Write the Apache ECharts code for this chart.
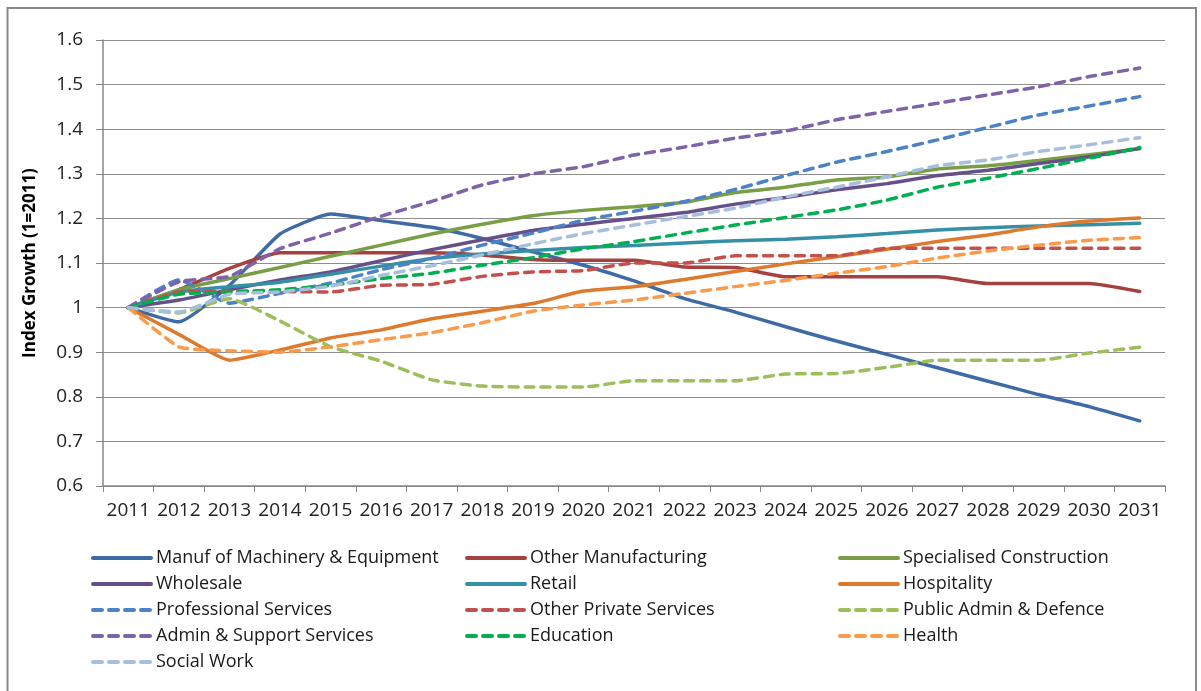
<!DOCTYPE html>
<html>
<head>
<meta charset="utf-8">
<script src="https://cdn.jsdelivr.net/npm/echarts@6/dist/echarts.min.js"></script>
<style>
  html, body { margin: 0; padding: 0; background: #fff; }
  #chart { width: 1201px; height: 691px; }
</style>
</head>
<body>
<div id="chart"></div>
<script>
// years on the x axis
const years = ['2011','2012','2013','2014','2015','2016','2017','2018','2019','2020','2021',
               '2022','2023','2024','2025','2026','2027','2028','2029','2030','2031'];

// index values (1 = 2011)
const manufMachinery = [1.0,0.968,1.05,1.165,1.21,1.195,1.18,1.155,1.125,1.095,1.06,1.02,0.99,0.957,0.925,0.895,0.865,0.835,0.805,0.778,0.746];
const otherManufacturing = [1.0,1.04,1.088,1.123,1.123,1.123,1.123,1.118,1.108,1.106,1.106,1.091,1.09,1.069,1.069,1.069,1.069,1.054,1.054,1.054,1.036];
const specialisedConstruction = [1.0,1.04,1.065,1.09,1.115,1.14,1.165,1.187,1.206,1.218,1.226,1.236,1.258,1.27,1.286,1.293,1.311,1.318,1.33,1.343,1.356];
const wholesale = [1.0,1.017,1.04,1.062,1.08,1.105,1.13,1.152,1.173,1.187,1.2,1.213,1.232,1.247,1.264,1.278,1.296,1.308,1.323,1.338,1.357];
const retail = [1.0,1.035,1.047,1.057,1.075,1.093,1.11,1.12,1.128,1.135,1.139,1.145,1.15,1.153,1.159,1.166,1.174,1.179,1.183,1.186,1.189];
const hospitality = [1.0,0.94,0.882,0.905,0.932,0.95,0.975,0.992,1.009,1.037,1.047,1.063,1.081,1.098,1.114,1.131,1.148,1.163,1.181,1.194,1.201];
const professionalServices = [1.0,1.062,1.01,1.032,1.055,1.085,1.11,1.14,1.167,1.196,1.216,1.238,1.265,1.296,1.326,1.35,1.376,1.404,1.432,1.452,1.473];
const otherPrivateServices = [1.0,1.035,1.037,1.036,1.035,1.05,1.052,1.07,1.08,1.083,1.1,1.1,1.116,1.116,1.116,1.133,1.133,1.133,1.133,1.133,1.133];
const publicAdmin = [1.0,0.988,1.02,0.97,0.912,0.88,0.838,0.824,0.822,0.822,0.836,0.836,0.836,0.851,0.852,0.866,0.882,0.882,0.882,0.898,0.911];
const adminSupport = [1.0,1.058,1.07,1.132,1.167,1.205,1.238,1.275,1.3,1.316,1.342,1.36,1.38,1.396,1.421,1.44,1.458,1.477,1.495,1.518,1.537];
const education = [1.0,1.03,1.035,1.04,1.05,1.065,1.077,1.095,1.112,1.132,1.148,1.167,1.185,1.202,1.219,1.241,1.27,1.29,1.312,1.335,1.359];
const health = [1.0,0.912,0.903,0.9,0.912,0.928,0.944,0.966,0.992,1.006,1.017,1.032,1.047,1.061,1.077,1.092,1.111,1.127,1.14,1.151,1.157];
const socialWork = [1.0,0.99,1.03,1.035,1.048,1.072,1.094,1.118,1.143,1.166,1.185,1.204,1.223,1.248,1.27,1.293,1.318,1.331,1.35,1.365,1.381];

const yTicks = { min: 0.6, max: 1.6, step: 0.1 };

const chartDom = document.getElementById('chart');
const myChart = echarts.init(chartDom);

const DASH = [9, 7];
function mk(name, data, color, dashed) {
    return {
        name: name,
        type: 'line',
        data: data,
        symbol: 'none',
        smooth: 0.15,
        lineStyle: {
            color: color,
            width: 3.5,
            type: dashed ? DASH : 'solid',
            cap: 'round'
        },
        itemStyle: { color: color }
    };
}

const series = [
    mk('Manuf of Machinery & Equipment', manufMachinery, '#3E6BA6', false),
    mk('Other Manufacturing', otherManufacturing, '#A5413F', false),
    mk('Specialised Construction', specialisedConstruction, '#7A9E45', false),
    mk('Wholesale', wholesale, '#65508A', false),
    mk('Retail', retail, '#3590A6', false),
    mk('Hospitality', hospitality, '#DD7A2E', false),
    mk('Professional Services', professionalServices, '#4D83C6', true),
    mk('Other Private Services', otherPrivateServices, '#C4504D', true),
    mk('Public Admin & Defence', publicAdmin, '#9CBF5B', true),
    mk('Admin & Support Services', adminSupport, '#7F62A8', true),
    mk('Education', education, '#00B050', true),
    mk('Health', health, '#FA9A4A', true),
    mk('Social Work', socialWork, '#A7BFDD', true)
];

const font = 'Open Sans';
function legendCol(left, names) {
    return {
        orient: 'vertical',
        left: left,
        top: 549,
        itemWidth: 58,
        itemHeight: 14,
        itemGap: 8,
        padding: 0,
        data: names,
        itemStyle: { opacity: 0 },
        lineStyle: { width: 4, cap: 'round' },
        textStyle: { fontFamily: font, fontSize: 18, color: '#1a1a1a', lineHeight: 18 }
    };
}

const option = {
    animation: false,
    backgroundColor: '#fff',
    textStyle: { fontFamily: font },
    grid: { left: 103, right: 36, top: 40, bottom: 205 },
    legend: [
        legendCol(91, ['Manuf of Machinery & Equipment', 'Wholesale', 'Professional Services', 'Admin & Support Services', 'Social Work']),
        legendCol(465, ['Other Manufacturing', 'Retail', 'Other Private Services', 'Education']),
        legendCol(838, ['Specialised Construction', 'Hospitality', 'Public Admin & Defence', 'Health'])
    ],
    xAxis: {
        type: 'category',
        data: years,
        boundaryGap: true,
        axisLine: { lineStyle: { color: '#878787', width: 1.5 } },
        axisTick: { show: true, length: 6, lineStyle: { color: '#878787' } },
        axisLabel: { interval: 0, margin: 15, fontFamily: font, fontSize: 19, color: '#222' }
    },
    yAxis: {
        type: 'value',
        min: yTicks.min,
        max: yTicks.max,
        interval: yTicks.step,
        name: 'Index Growth (1=2011)',
        nameLocation: 'middle',
        nameRotate: 90,
        nameGap: 64,
        nameTextStyle: { fontFamily: font, fontSize: 17, fontWeight: 'bold', color: '#000' },
        axisLine: { show: true, lineStyle: { color: '#878787', width: 1.5 } },
        axisTick: { show: true, length: 7, lineStyle: { color: '#878787' } },
        axisLabel: {
            margin: 20, fontFamily: font, fontSize: 19, color: '#222',
            formatter: v => String(+v.toFixed(1))
        },
        splitLine: { lineStyle: { color: '#8e8e8e', width: 1.2 } }
    },
    graphic: [{
        type: 'rect',
        shape: { x: 7.5, y: 8, width: 1188.5, height: 700 },
        style: { fill: 'none', stroke: '#8a8a8a', lineWidth: 2 },
        silent: true
    }],
    series: series
};

option && myChart.setOption(option);
window.addEventListener('resize', () => {
    myChart && myChart.resize();
});
</script>
</body>
</html>
